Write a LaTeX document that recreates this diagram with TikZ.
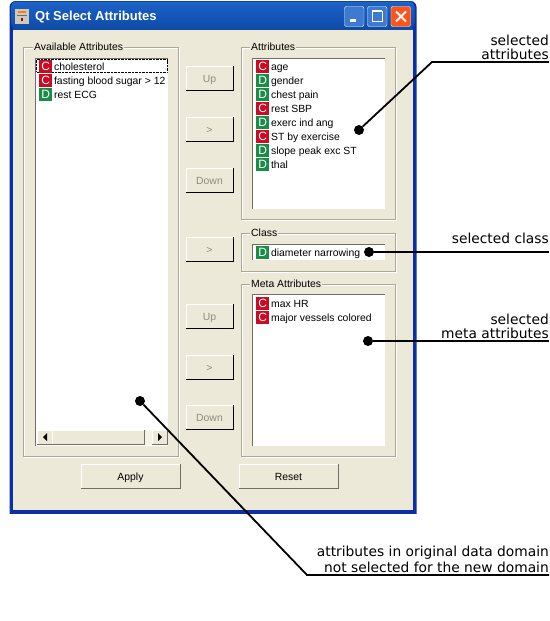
\documentclass[tikz,border=0pt]{standalone}
\usepackage{fontspec}
\setmainfont{Liberation Sans}
\newfontfamily\notefont{DejaVu Sans}
\usetikzlibrary{positioning}
\definecolor{panel}{HTML}{ECE9D8}
\definecolor{etched}{HTML}{ACA899}
\definecolor{shadowline}{HTML}{716F64}
\definecolor{frameblue}{HTML}{0B2FA8}
\definecolor{titletop}{HTML}{1C62C8}
\definecolor{titlelow}{HTML}{0F4CA8}
\definecolor{contred}{HTML}{CC0A22}
\definecolor{discgreen}{HTML}{1A8C46}
\definecolor{greytext}{HTML}{8E8C80}
\def\raised#1{\draw[white] (#1.south west) |- (#1.north east);
    \draw[black] (#1.south west) -- (#1.south east) -- (#1.north east);}
\def\flatbtn#1{\draw[white] (#1.south west) |- (#1.north east);
    \draw[shadowline] (#1.south west) -- (#1.south east) -- (#1.north east);}
\def\sunken(#1,#2)(#3,#4){\fill[white] (#1,#2) rectangle (#3,#4);
    \draw[shadowline, line width=1.2pt] (#1,#4) |- (#3,#2);}
\tikzset{x=1pt, y=-1pt,
    pushbtn/.style={fill=panel, minimum width=47pt, minimum height=23pt, inner sep=0pt,
        text height=9pt, text depth=1pt, font=\fontsize{10.4}{12}\selectfont, text=greytext},
    widebtn/.style={pushbtn, minimum width=98pt, text=black},
    grouptitle/.style={fill=panel, inner sep=1pt, anchor=west, text height=8pt, text depth=2pt,
        font=\fontsize{10.4}{12}\selectfont},
    badge/.style={minimum width=13pt, minimum height=13pt, inner sep=0pt, text=white, anchor=west,
        text height=9pt, text depth=0pt, font=\fontsize{12}{12}\selectfont},
    badgeC/.style={badge, fill=contred},
    badgeD/.style={badge, fill=discgreen},
    item/.style={right=1.5pt of #1, inner sep=0pt, text height=9pt, text depth=1pt,
        font=\fontsize{10.4}{12}\selectfont},
    note/.style={anchor=east, inner sep=0pt, font=\notefont\fontsize{13.8}{14}\selectfont},
    pin/.style={circle, fill=black, minimum size=10pt, inner sep=0pt},
    leader/.style={draw=black, line width=1.8pt}}

\begin{document}
\begin{tikzpicture}
    \useasboundingbox (0,0) rectangle (549,621);
    % window
    \fill[frameblue, rounded corners=6pt] (9.5,1) rectangle (416.5,520);
    \fill[white] (0,514) rectangle (549,530);
    \fill[titlelow] (13,20) rectangle (413,30);
    \shade[top color=titletop, bottom color=titlelow, rounded corners=5pt] (11,1.5) rectangle (414.5,28);
    \fill[panel] (13,30) rectangle (413,510);
    \node[anchor=west, inner sep=0pt, text=white, font=\fontsize{13}{14}\selectfont\bfseries] (title) at (35,17) {Qt Select Attributes};
    % title icon
    \fill[panel!70!gray] (15,9) rectangle (29,24);
    \fill[orange] (18,11) rectangle (26,13);
    \fill[shadowline] (17,15) rectangle (27,16);
    \fill[red!70!black] (21,18) rectangle (23,21);
    % caption buttons
    \draw[white, fill=titletop!85!white, rounded corners=2pt] (344.5,6.5) rectangle (364,26.5);
    \fill[white] (350,19) rectangle (356,22);
    \draw[white, fill=titletop!85!white, rounded corners=2pt] (367.5,6.5) rectangle (387,26.5);
    \draw[white, line width=1pt] (372,11.5) rectangle (382,21.5);
    \draw[white, line width=2pt] (372,10.5) -- (382,10.5);
    \draw[white, fill=red!50!orange!90!white, rounded corners=2pt] (391,6.5) rectangle (410.5,26.5);
    \draw[white, line width=2pt] (396,11.5) -- (406,21.5) (406,11.5) -- (396,21.5);
    % group boxes
    \draw[white] (24.5,48.5) rectangle (179.5,457.5) (242.5,48.5) rectangle (396.5,220.5)
                 (242.5,234.5) rectangle (396.5,272.5) (242.5,285.5) rectangle (396.5,457.5);
    \draw[etched] (23.5,47.5) rectangle (178.5,456.5) (241.5,47.5) rectangle (395.5,219.5)
                 (241.5,233.5) rectangle (395.5,271.5) (241.5,284.5) rectangle (395.5,456.5);
    \node[grouptitle] (availTitle) at (33,47) {Available Attributes};
    \node[grouptitle] (attrTitle) at (250,47) {Attributes};
    \node[grouptitle] (classTitle) at (250,233) {Class};
    \node[grouptitle] (metaTitle) at (250,284) {Meta Attributes};
    % list boxes
    \sunken(35.5,58.5)(168,446)
    \sunken(252.5,58.5)(385,209)
    \sunken(252.5,244.5)(385,260)
    \sunken(252.5,294.5)(385,446)
    % available list
    \draw[black, densely dotted] (36.5,59.5) rectangle (167,72);
    \node[badgeC] (avail1) at (39,66) {C};
    \node[item=avail1] {cholesterol};
    \node[badgeC] (avail2) at (39,80) {C};
    \node[item=avail2] {fasting blood sugar > 12};
    \node[badgeD] (avail3) at (39,94) {D};
    \node[item=avail3] {rest ECG};
    % attributes list
    \node[badgeC] (attr1) at (256,66) {C};
    \node[item=attr1] {age};
    \node[badgeD] (attr2) at (256,80) {D};
    \node[item=attr2] {gender};
    \node[badgeD] (attr3) at (256,94) {D};
    \node[item=attr3] {chest pain};
    \node[badgeC] (attr4) at (256,108) {C};
    \node[item=attr4] {rest SBP};
    \node[badgeD] (attr5) at (256,122) {D};
    \node[item=attr5] {exerc ind ang};
    \node[badgeC] (attr6) at (256,136) {C};
    \node[item=attr6] {ST by exercise};
    \node[badgeD] (attr7) at (256,150) {D};
    \node[item=attr7] {slope peak exc ST};
    \node[badgeD] (attr8) at (256,164) {D};
    \node[item=attr8] {thal};
    % class and meta lists
    \node[badgeD] (class1) at (256,252) {D};
    \node[item=class1] {diameter narrowing};
    \node[badgeC] (meta1) at (256,303) {C};
    \node[item=meta1] {max HR};
    \node[badgeC] (meta2) at (256,317) {C};
    \node[item=meta2] {major vessels colored};
    % scrollbar
    \fill[panel!60!white] (37,430) rectangle (167,445);
    \node[pushbtn, minimum width=15pt, minimum height=14pt] (scrollL) at (44.5,437) {};
    \node[pushbtn, minimum width=91pt, minimum height=14pt] (scrollT) at (98,437) {};
    \node[pushbtn, minimum width=15pt, minimum height=14pt] (scrollR) at (159.5,437) {};
    \fill[black] (47,433) -- (47,441) -- (43,437) -- cycle;
    \fill[black] (158,433) -- (158,441) -- (162,437) -- cycle;
    \flatbtn{scrollL} \flatbtn{scrollT} \flatbtn{scrollR}
    % push buttons
    \node[pushbtn] (up1) at (209.5,78) {Up};
    \node[pushbtn] (add1) at (209.5,129) {>};
    \node[pushbtn] (down1) at (209.5,180) {Down};
    \node[pushbtn] (add2) at (209.5,249) {>};
    \node[pushbtn] (up2) at (209.5,316) {Up};
    \node[pushbtn] (add3) at (209.5,367) {>};
    \node[pushbtn] (down2) at (209.5,417) {Down};
    \node[widebtn] (apply) at (130.5,476) {Apply};
    \node[widebtn] (reset) at (288.5,476) {Reset};
    \raised{up1} \raised{add1} \raised{down1} \raised{add2}
    \raised{up2} \raised{add3} \raised{down2}
    \flatbtn{apply} \flatbtn{reset}
    % callouts
    \node[note] (noteAttrA) at (549,40) {selected};
    \node[note] (noteAttrB) at (549,54) {attributes};
    \node[note] (noteClass) at (549,238) {selected class};
    \node[note] (noteMetaA) at (549,319) {selected};
    \node[note] (noteMetaB) at (549,333) {meta attributes};
    \node[note] (noteAvailA) at (549,553) {attributes in original data domain};
    \node[note] (noteAvailB) at (549,567) {not selected for the new domain};
    \node[pin] (pinAttr) at (359,130) {};
    \node[pin] (pinClass) at (369,252) {};
    \node[pin] (pinMeta) at (368,341) {};
    \node[pin] (pinAvail) at (140,401) {};
    \coordinate (endAttr) at (549,62);
    \coordinate (endClass) at (549,252);
    \coordinate (endMeta) at (549,341);
    \coordinate (endAvail) at (549,575);
    \draw[leader] (pinAttr) -- (432,62) -- (endAttr);
    \draw[leader] (pinClass) -- (endClass);
    \draw[leader] (pinMeta) -- (endMeta);
    \draw[leader] (pinAvail) -- (307,575) -- (endAvail);
\end{tikzpicture}
\end{document}
